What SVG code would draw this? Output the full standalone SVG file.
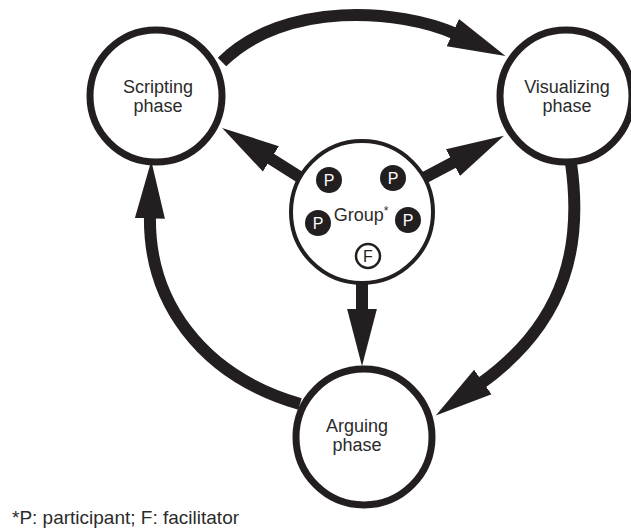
<svg xmlns="http://www.w3.org/2000/svg" width="631" height="531" viewBox="0 0 631 531">
<defs>
<marker id="head" markerUnits="userSpaceOnUse" markerWidth="60" markerHeight="40" viewBox="-2 -15 52 30" refX="1" refY="0" orient="auto">
<path d="M-2,-13 L48,0 L-2,13 Z" fill="#231f20"/>
</marker>
<style>
.phase{fill:#fff;stroke:#231f20;stroke-width:7}
.grp{fill:#fff;stroke:#231f20;stroke-width:4}
.lbl{font-family:"Liberation Sans",Arial,Helvetica,sans-serif;font-size:18px;fill:#2b2b2b;text-anchor:middle}
.pc{fill:#231f20}
.pt{font-family:"Liberation Sans",Arial,sans-serif;font-size:16px;fill:#fff;text-anchor:middle}
.ft{font-family:"Liberation Sans",Arial,sans-serif;font-size:16px;fill:#231f20;text-anchor:middle}
.arr{fill:none;stroke:#231f20;stroke-width:12;marker-end:url(#head)}
</style>
</defs>
<rect width="631" height="531" fill="#fff"/>
<g id="connectors">
<path class="arr" d="M222,62 C285,0 400,9 456,34"/>
<path class="arr" d="M571,163 C582,240 570,320 480,384"/>
<path class="arr" d="M300,404 C200,375 148,300 150,215"/>
<path class="arr" d="M306,181 L268,157"/>
<path class="arr" d="M420,180 L456,161"/>
<path class="arr" d="M362,280 L362,312"/>
</g>
<g id="scripting">
<circle class="phase" cx="156" cy="96" r="66"/>
<text class="lbl" x="158" y="93">Scripting</text>
<text class="lbl" x="158" y="112">phase</text>
</g>
<g id="visualizing">
<circle class="phase" cx="566" cy="96" r="66"/>
<text class="lbl" x="567" y="93">Visualizing</text>
<text class="lbl" x="567" y="112">phase</text>
</g>
<g id="arguing">
<circle class="phase" cx="364" cy="437" r="68"/>
<text class="lbl" x="357" y="432">Arguing</text>
<text class="lbl" x="357" y="451">phase</text>
</g>
<g id="group">
<circle class="grp" cx="362" cy="212" r="71"/>
<text class="lbl" x="361" y="221">Group<tspan font-size="12" dy="-6">*</tspan></text>
<g id="p1"><circle class="pc" cx="329" cy="180" r="13"/><text class="pt" x="329" y="186">P</text></g>
<g id="p2"><circle class="pc" cx="393" cy="178" r="13"/><text class="pt" x="393" y="184">P</text></g>
<g id="p3"><circle class="pc" cx="318" cy="223" r="13"/><text class="pt" x="318" y="229">P</text></g>
<g id="p4"><circle class="pc" cx="408" cy="220" r="13"/><text class="pt" x="408" y="226">P</text></g>
<g id="f"><circle cx="368" cy="256" r="12" fill="#fff" stroke="#231f20" stroke-width="2.5"/><text class="ft" x="368" y="262">F</text></g>
</g>
<text id="footnote" x="12" y="524" font-family="Liberation Sans, Arial, sans-serif" font-size="19" fill="#2b2b2b">*P: participant; F: facilitator</text>
</svg>
